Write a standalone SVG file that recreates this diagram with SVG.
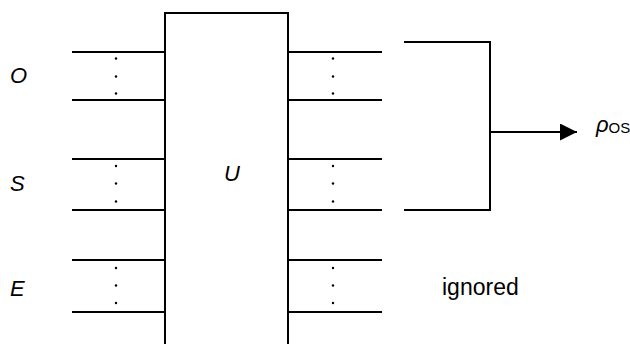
<svg xmlns="http://www.w3.org/2000/svg" width="630" height="344" viewBox="0 0 630 344">
<defs>
<style>
.w{stroke:#000;stroke-width:2;fill:none}
.lbl{font-family:"Liberation Sans",Arial,sans-serif;font-size:22px;font-style:italic;fill:#000}
.txt{font-family:"Liberation Sans",Arial,sans-serif;font-size:23px;fill:#000}
.d{fill:#000}
</style>
<marker id="ah" viewBox="0 0 17 17" refX="17" refY="8.5" markerWidth="17" markerHeight="17" markerUnits="userSpaceOnUse" orient="auto">
<path d="M0,0 L17,8.5 L0,17 Z" fill="#000"/>
</marker>
</defs>
<rect width="630" height="344" fill="#fff"/>
<g id="U">
<path class="w" d="M165,350 V13 H288 V350"/>
<text class="lbl" x="224" y="181">U</text>
</g>
<g id="O-in">
<text class="lbl" x="10" y="83">O</text>
<path class="w" d="M72,52 H165 M72,100 H165"/>
<circle class="d" cx="116" cy="58.5" r="1.2"/><circle class="d" cx="116" cy="76.5" r="1.2"/><circle class="d" cx="116" cy="93.5" r="1.2"/>
</g>
<g id="S-in">
<text class="lbl" x="10" y="191">S</text>
<path class="w" d="M72,159 H165 M72,210 H165"/>
<circle class="d" cx="116" cy="166" r="1.2"/><circle class="d" cx="116" cy="183.5" r="1.2"/><circle class="d" cx="116" cy="201.5" r="1.2"/>
</g>
<g id="E-in">
<text class="lbl" x="10" y="296">E</text>
<path class="w" d="M72,260 H165 M72,312 H165"/>
<circle class="d" cx="116" cy="268" r="1.2"/><circle class="d" cx="116" cy="285.5" r="1.2"/><circle class="d" cx="116" cy="303" r="1.2"/>
</g>
<g id="O-out">
<path class="w" d="M288,52 H382 M288,100 H382"/>
<circle class="d" cx="333" cy="58.5" r="1.2"/><circle class="d" cx="333" cy="76.5" r="1.2"/><circle class="d" cx="333" cy="93.5" r="1.2"/>
</g>
<g id="S-out">
<path class="w" d="M288,159 H382 M288,210 H382"/>
<circle class="d" cx="333" cy="166" r="1.2"/><circle class="d" cx="333" cy="183.5" r="1.2"/><circle class="d" cx="333" cy="201.5" r="1.2"/>
</g>
<g id="E-out">
<path class="w" d="M288,260 H382 M288,312 H382"/>
<circle class="d" cx="333" cy="268" r="1.2"/><circle class="d" cx="333" cy="285.5" r="1.2"/><circle class="d" cx="333" cy="303" r="1.2"/>
<text class="txt" x="442" y="295">ignored</text>
</g>
<g id="rho">
<text class="lbl" x="596" y="132">ρ<tspan font-style="normal" font-size="15" dy="1">OS</tspan></text>
</g>
<g id="connectors">
<path class="w" d="M404,42 H490 V210 H404"/>
<path class="w" d="M490,132 H577" marker-end="url(#ah)"/>
</g>
</svg>
